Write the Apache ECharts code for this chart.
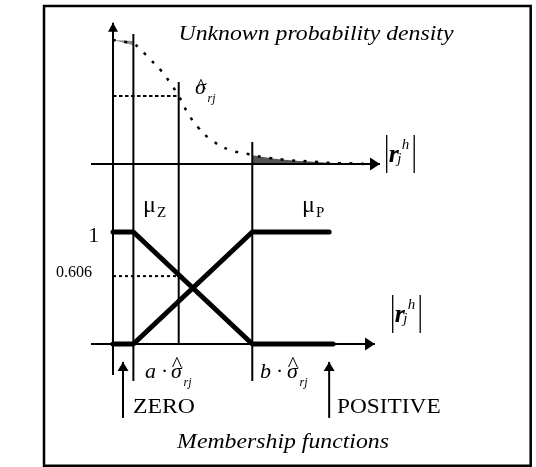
<!DOCTYPE html>
<html><head><meta charset="utf-8">
<style>html,body{margin:0;padding:0;background:#fff}#c{width:536px;height:467px}</style>
<script src="https://cdn.jsdelivr.net/npm/echarts@6/dist/echarts.min.js"></script>
</head><body><div id="c"></div>
<script>
// ---- diagram parameters (x in units of sigma_rj) ----
const A = 0.31;        // a
const SIGMA = 1;       // sigma_rj
const B = 2.12;        // b

// unknown probability density
const densityX = [0, 0.31, 0.38, 0.56, 0.75, 0.87, 1.0, 1.13, 1.29, 1.52, 1.78, 1.98, 2.12, 2.28, 2.65, 3.0, 3.35, 3.71, 3.84];
const densityY = [0.992, 0.96, 0.936, 0.84, 0.736, 0.648, 0.544, 0.416, 0.296, 0.184, 0.112, 0.088, 0.072, 0.056, 0.032, 0.02, 0.008, 0.004, 0.0];
const sliverX = [0, 0.31, 0.31];
const sliverY = [0.992, 0.985, 0.95];
const sigmaDensity = 0.544;

// membership functions
const muZX = [0, A, B, 3.35];
const muZY = [1, 1, 0, 0];
const muPX = [0, A, B, 3.29];
const muPY = [0, 0, 1, 1];
const muLevel = 0.606;
const memTickValues = [1, 0.606];
const memTickLabels = ['1', '0.606'];

// guide verticals: x, top in upper panel (density units), bottom in lower panel
const guideX = [0, A, SIGMA, B];
const guideTopUpper = [1.13, 1.04, 0.656, 0.176];
const guideBottomLower = [-0.277, -0.33, 0, -0.33];
const LOWER_TOP = 1.607;

// axes / arrows
const upperAxisX = [-0.335, 4.064];
const lowerAxisX = [-0.335, 3.988];
const zeroArrowX = 0.152, positiveArrowX = 3.29;
const arrowY = [-0.66, -0.16];

const SERIF = '"Liberation Serif", "Times New Roman", serif';
const K = '#000';
const pairs = (xs, ys) => xs.map((x, i) => [x, ys[i]]);

function seg(g, data, ls, extra) {
  return Object.assign({
    type: 'line', xAxisIndex: g, yAxisIndex: g, data: data, symbol: 'none', showSymbol: true,
    clip: false, silent: true, lineStyle: Object.assign({ color: K, width: 2 }, ls), z: 3
  }, extra || {});
}
function tip(pt, rot, size, off) {
  return { value: pt, symbol: 'triangle', symbolSize: size, symbolRotate: rot, symbolOffset: off,
    itemStyle: { color: K } };
}

const series = [];
// upper panel
series.push({
  type: 'line', xAxisIndex: 0, yAxisIndex: 0, smooth: true, symbol: 'none', silent: true, clip: false,
  data: pairs(densityX, densityY).slice(12), lineStyle: { width: 0 },
  areaStyle: { color: '#555', opacity: 1 }, z: 2
});
series.push({
  type: 'custom', xAxisIndex: 0, yAxisIndex: 0, silent: true, clip: false, data: [0], z: 2,
  renderItem: function (params, api) {
    const pts = pairs(sliverX, sliverY).map(p => api.coord(p));
    return { type: 'polygon', shape: { points: pts }, style: { fill: '#8c8c8c' } };
  }
});
series.push(seg(0, pairs(densityX, densityY), { width: 2.5, type: [3, 8.5] }, { smooth: true, z: 4 }));
series.push(seg(0, [[0, sigmaDensity], [SIGMA, sigmaDensity]], { width: 2, type: [3.5, 2.5] }));
guideX.forEach((x, i) => {
  const top = i === 0 ? tip([x, guideTopUpper[i]], 0, [10, 9], [0, 4.5]) : [x, guideTopUpper[i]];
  series.push(seg(0, [[x, 0], top], { width: 2 }));
  series.push(seg(1, [[x, LOWER_TOP], [x, guideBottomLower[i]]], { width: 2 }));
});
series.push(seg(0, [[upperAxisX[0], 0], tip([upperAxisX[1], 0], -90, [13, 10], [-5, 0])], { width: 2 }));

// lower panel
series.push(seg(1, [[lowerAxisX[0], 0], tip([lowerAxisX[1], 0], -90, [13, 10], [-5, 0])], { width: 2 }));
series.push(seg(1, [[0, muLevel], [SIGMA, muLevel]], { width: 2, type: [3, 3] }));
series.push(seg(1, pairs(muZX, muZY), { width: 5, cap: 'round', join: 'round' }, { z: 5 }));
series.push(seg(1, pairs(muPX, muPY), { width: 5, cap: 'round', join: 'round' }, { z: 5 }));
series.push(seg(1, [[zeroArrowX, arrowY[0]], tip([zeroArrowX, arrowY[1]], 0, [11, 9], [0, 4.5])], { width: 2 }));
series.push(seg(1, [[positiveArrowX, arrowY[0]], tip([positiveArrowX, arrowY[1]], 0, [11, 9], [0, 4.5])], { width: 2 }));

const chart = echarts.init(document.getElementById('c'), null, { renderer: 'canvas' });
chart.setOption({
  animation: false,
  backgroundColor: '#fff',
  grid: [
    { left: 91, width: 289, top: 22, height: 142 },
    { left: 91, width: 289, top: 164, height: 264 }
  ],
  xAxis: [
    { type: 'value', gridIndex: 0, min: upperAxisX[0], max: upperAxisX[1], show: false },
    { type: 'value', gridIndex: 1, min: upperAxisX[0], max: upperAxisX[1], show: false }
  ],
  yAxis: [
    { type: 'value', gridIndex: 0, min: 0, max: 1.136, show: false },
    { type: 'value', gridIndex: 1, min: -0.75, max: LOWER_TOP, show: false }
  ],
  series: series
});

// ---- text annotations ----
function T(x, baseline, text, size, opt) {
  opt = opt || {};
  return {
    type: 'text', x: x, y: baseline - 0.3375 * size, scaleX: opt.sx || 1, z: 100, silent: true,
    style: {
      text: text, x: 0, y: 0, fill: K, align: opt.align || 'left', verticalAlign: 'middle',
      fontSize: size, fontFamily: SERIF, fontStyle: opt.it ? 'italic' : 'normal',
      fontWeight: opt.bold ? 'bold' : 'normal'
    }
  };
}
function bar(x, y1, y2) {
  return { type: 'line', z: 100, silent: true, shape: { x1: x, y1: y1, x2: x, y2: y2 }, style: { stroke: K, lineWidth: 1.3 } };
}
function absR(x0, y0) { // |r_j^h|, x0 = left bar, y0 = top of bars
  return [
    bar(x0, y0, y0 + 38), bar(x0 + 27.5, y0, y0 + 38),
    T(x0 + 2, y0 + 29, 'r', 26, { it: true, bold: true }),
    T(x0 + 15, y0 + 15, 'h', 15, { it: true }),
    T(x0 + 10.5, y0 + 29, 'j', 15, { it: true })
  ];
}
function sigHat(xs, base, hatBase) {
  return [
    T(xs, base, 'σ', 22, { it: true }),
    T(xs + 6, hatBase, '^', 22, { align: 'center' }),
    T(xs + 12.5, base + 7, 'rj', 12, { it: true })
  ];
}

const g = [];
g.push({ type: 'rect', z: 90, silent: true, shape: { x: 44, y: 6, width: 486.7, height: 459.7 },
  style: { fill: 'none', stroke: K, lineWidth: 2.5 } });
g.push(T(316, 42, 'Unknown probability density', 22, { it: true, align: 'center', sx: 1.08 }));
g.push(T(283, 449.3, 'Membership functions', 22, { it: true, align: 'center', sx: 1.08 }));
g.push(T(133, 415, 'ZERO', 22, { sx: 1.08 }));
g.push(T(337, 415, 'POSITIVE', 22, { sx: 1.06 }));
g.push(T(143, 214, 'μ', 24));
g.push(T(157, 218, 'Z', 15));
g.push(T(302, 214, 'μ', 24));
g.push(T(316, 218, 'P', 15));
g.push(...sigHat(195, 96, 95));
g.push(T(145, 380, 'a · ', 22, { it: true }));
g.push(...sigHat(171, 380, 373));
g.push(T(260, 380, 'b · ', 22, { it: true }));
g.push(...sigHat(287, 380, 373));
g.push(...absR(386.7, 135));
g.push(...absR(392.7, 295));

// tick labels of the membership axis, placed through the lower grid's scales
memTickValues.forEach((v, i) => {
  const p = chart.convertToPixel({ xAxisIndex: 1, yAxisIndex: 1 }, [0, v]);
  if (i === 0) g.push(T(p[0] - 14, p[1] + 4 + 0.3375 * 21, memTickLabels[i], 21, { align: 'right' }));
  else g.push(T(p[0] - 21, p[1] - 3.5 + 0.3375 * 16, memTickLabels[i], 16, { align: 'right' }));
});

chart.setOption({ graphic: { elements: g } });
</script>
</body></html>
